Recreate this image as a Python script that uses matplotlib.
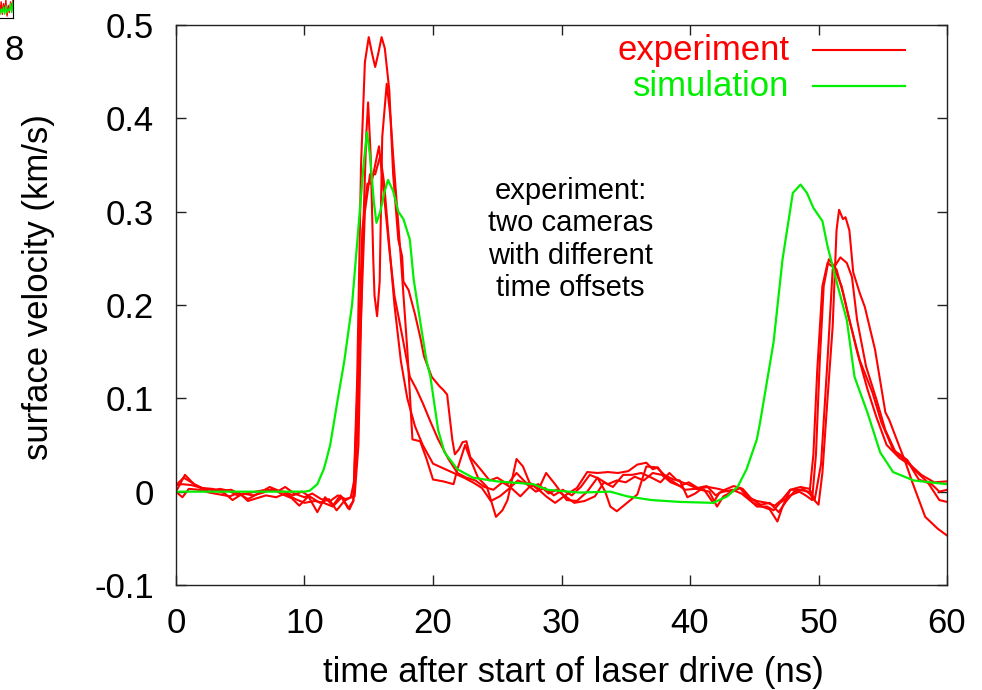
import matplotlib
matplotlib.use('Agg')
import matplotlib.pyplot as plt

plt.rcParams['font.family'] = ['Liberation Sans', 'DejaVu Sans']

# --- experiment traces: (time ns, surface velocity km/s) ---
exp1 = [(0, 0.0), (0.7, 0.018), (1.4, 0.008), (2.2, 0.003), (3.0, 0.002), (3.8, -0.002),
        (4.4, -0.009), (5.2, -0.002), (6.0, -0.004), (6.8, -0.001), (7.5, 0.003), (8.3, -0.003),
        (9.0, -0.007), (9.6, -0.015), (10.3, -0.005), (11.0, -0.022), (11.6, -0.006), (12.2, -0.015),
        (12.8, -0.004), (13.4, -0.018), (13.8, -0.01), (14.1, 0.12), (14.4, 0.35), (14.7, 0.46),
        (15.0, 0.487), (15.25, 0.47), (15.5, 0.455), (15.75, 0.47), (16.0, 0.487), (16.25, 0.475),
        (16.6, 0.43), (16.9, 0.34), (17.3, 0.27), (17.6, 0.252), (17.7, 0.225), (18.1, 0.216),
        (18.6, 0.19), (19.0, 0.166), (19.3, 0.145), (19.9, 0.123), (20.5, 0.113), (20.8, 0.109),
        (21.1, 0.104), (21.5, 0.056), (21.7, 0.04), (22.0, 0.045), (22.3, 0.053), (22.6, 0.054),
        (22.9, 0.037), (23.7, 0.024), (24.4, 0.012), (25.0, 0.015), (25.8, 0.008), (26.5, 0.02),
        (27.2, 0.01), (28.0, 0.005), (28.8, -0.005), (29.5, -0.012), (30.4, -0.003), (31.2, 0.004),
        (32.0, 0.021), (32.8, 0.02), (33.6, 0.021), (34.4, 0.02), (35.2, 0.022), (35.9, 0.029),
        (36.6, 0.031), (37.1, 0.024), (37.5, 0.026), (38.0, 0.016), (38.4, 0.013), (39.0, 0.008),
        (39.6, 0.002), (40.4, 0.003), (41.1, 0.002), (41.8, -0.012), (42.3, -0.001), (43.3, 0.002),
        (44.0, -0.002), (44.9, -0.012), (45.6, -0.016), (46.2, -0.019), (46.8, -0.032), (47.2, -0.016),
        (47.8, 0.002), (48.5, 0.002), (49.2, 0.0), (49.6, -0.008), (50.0, -0.014), (50.3, 0.02),
        (50.7, 0.1), (51.1, 0.177), (51.4, 0.28), (51.6, 0.302), (51.9, 0.292), (52.1, 0.294),
        (52.4, 0.28), (52.7, 0.235), (53.2, 0.213), (53.6, 0.198), (54.4, 0.152), (55.2, 0.085),
        (55.5, 0.077), (56.3, 0.048), (56.7, 0.034), (57.3, 0.01), (58.3, -0.027), (59.3, -0.04),
        (60.0, -0.047)]

exp2 = [(0, 0.007), (0.5, 0.008), (1.2, 0.007), (2.0, 0.004), (2.8, 0.003), (3.6, 0.001),
        (4.3, 0.002), (5.0, -0.003), (5.6, -0.008), (6.4, -0.002), (7.3, 0.005), (8.0, 0.001),
        (8.5, 0.005), (9.2, -0.002), (10.0, -0.006), (10.6, -0.002), (11.3, -0.008), (12.0, -0.01),
        (12.6, -0.004), (13.2, -0.008), (13.9, -0.005), (14.2, 0.05), (14.5, 0.25), (14.8, 0.38),
        (14.95, 0.417), (15.15, 0.36), (15.35, 0.25), (15.45, 0.21), (15.65, 0.188), (15.85, 0.225),
        (16.05, 0.38), (16.4, 0.437), (16.7, 0.40), (16.9, 0.36), (17.5, 0.25), (18.0, 0.152),
        (18.4, 0.056), (19.0, 0.054), (19.5, 0.035), (20.0, 0.013), (20.8, 0.011), (21.6, 0.008),
        (21.9, 0.024), (22.5, 0.05), (22.9, 0.035), (23.5, 0.015), (24.2, 0.005), (24.9, -0.027),
        (25.4, -0.02), (25.8, -0.009), (26.5, 0.035), (27.0, 0.027), (27.5, 0.01), (28.2, 0.002),
        (28.8, 0.02), (29.5, 0.008), (30.4, -0.009), (31.2, -0.01), (32.0, 0.0), (32.8, 0.015),
        (33.4, 0.0), (33.8, -0.016), (34.3, -0.021), (35.1, -0.012), (35.9, -0.003), (36.6, 0.027),
        (37.4, 0.026), (38.0, 0.018), (38.7, 0.013), (39.2, 0.012), (39.8, -0.006), (40.4, -0.002),
        (40.8, 0.002), (41.5, 0.0), (42.1, -0.016), (42.6, -0.005), (43.3, 0.0), (43.9, 0.004),
        (44.6, -0.008), (45.2, -0.016), (46.0, -0.016), (46.5, -0.02), (47.0, -0.012), (47.8, -0.004),
        (48.5, 0.0), (49.0, -0.004), (49.5, -0.009), (49.8, 0.04), (50.1, 0.141), (50.4, 0.22),
        (50.8, 0.249), (51.4, 0.238), (51.9, 0.213), (52.4, 0.184), (53.2, 0.141), (54.2, 0.106),
        (54.9, 0.074), (55.8, 0.045), (56.9, 0.034), (57.4, 0.024), (58.5, 0.01), (59.4, -0.009),
        (60.0, -0.011)]

exp3 = [(0, 0.0), (0.5, -0.006), (1.0, 0.003), (1.8, 0.002), (2.6, -0.001), (3.4, -0.003),
        (4.2, -0.005), (4.9, -0.001), (5.6, -0.01), (6.3, -0.007), (7.0, -0.004), (7.8, -0.006),
        (8.5, -0.002), (9.3, -0.008), (10.0, -0.012), (10.8, -0.01), (11.5, -0.012), (12.2, -0.016),
        (12.9, -0.006), (13.5, -0.019), (13.8, -0.01), (14.1, 0.1), (14.5, 0.28), (14.9, 0.33),
        (15.2, 0.33), (15.5, 0.35), (15.8, 0.37), (16.1, 0.33), (16.6, 0.26), (17.0, 0.21),
        (17.7, 0.16), (18.2, 0.123), (18.7, 0.11), (19.2, 0.095), (19.8, 0.075), (20.4, 0.056),
        (21.2, 0.035), (21.9, 0.02), (22.6, 0.015), (23.3, 0.012), (24.0, 0.005), (24.7, 0.002),
        (25.4, 0.01), (26.0, 0.005), (26.8, -0.005), (27.5, 0.005), (28.2, 0.008), (29.0, -0.002),
        (29.6, 0.002), (30.4, -0.006), (31.0, -0.012), (31.8, -0.01), (32.6, -0.005), (33.3, 0.01),
        (34.0, 0.005), (34.8, 0.018), (35.5, 0.018), (36.2, 0.02), (37.0, 0.015), (37.7, 0.01),
        (38.4, 0.02), (39.0, 0.012), (39.8, 0.008), (40.6, 0.003), (41.4, 0.005), (42.2, 0.003),
        (43.0, 0.0), (43.9, 0.004), (44.5, -0.006), (45.2, -0.01), (46.0, -0.012), (46.6, -0.015),
        (47.2, -0.008), (47.8, 0.002), (48.6, 0.005), (49.3, 0.003), (49.7, -0.009), (50.2, 0.03),
        (50.7, 0.141), (51.1, 0.238), (51.7, 0.251), (52.2, 0.245), (52.6, 0.23), (53.0, 0.184),
        (53.7, 0.134), (54.5, 0.099), (55.2, 0.066), (56.0, 0.042), (57.0, 0.031), (57.8, 0.013),
        (58.8, 0.008), (59.4, 0.0), (60.0, 0.002)]

exp4 = [(0, 0.007), (0.6, 0.015), (1.2, 0.01), (1.9, 0.004), (2.6, 0.0), (3.4, 0.003),
        (4.1, 0.001), (4.8, -0.004), (5.5, -0.002), (6.2, 0.0), (7.0, 0.002), (7.7, 0.001),
        (8.4, 0.0), (9.1, -0.004), (9.8, 0.0), (10.5, -0.006), (11.2, -0.012), (11.9, -0.008),
        (12.5, -0.02), (13.1, -0.01), (13.6, -0.006), (14.0, 0.02), (14.3, 0.15), (14.7, 0.3),
        (15.1, 0.34), (15.5, 0.34), (15.9, 0.36), (16.2, 0.33), (16.5, 0.28), (17.0, 0.2),
        (17.5, 0.14), (18.0, 0.1), (18.6, 0.07), (19.2, 0.05), (20.0, 0.03), (20.8, 0.025),
        (21.6, 0.02), (22.4, 0.015), (23.1, 0.01), (23.8, 0.004), (24.5, -0.01), (25.2, -0.005),
        (25.9, 0.003), (26.6, 0.012), (27.3, 0.008), (28.0, 0.0), (28.7, 0.004), (29.4, -0.004),
        (30.1, 0.002), (30.8, -0.004), (31.5, 0.005), (32.2, 0.018), (32.9, 0.014), (33.6, 0.008),
        (34.3, 0.012), (35.0, 0.01), (35.7, 0.016), (36.4, 0.012), (37.1, 0.02), (37.8, 0.018),
        (38.5, 0.01), (39.2, 0.006), (39.9, 0.01), (40.6, 0.004), (41.3, 0.006), (42.0, -0.004),
        (42.7, 0.002), (43.4, 0.006), (44.1, 0.003), (44.8, -0.008), (45.5, -0.014), (46.2, -0.012),
        (46.9, -0.022), (47.5, -0.01), (48.1, 0.0), (48.8, 0.003), (49.3, -0.002), (49.6, 0.04),
        (49.9, 0.13), (50.3, 0.22), (50.7, 0.245), (51.2, 0.24), (51.8, 0.22), (52.3, 0.19),
        (53.0, 0.15), (53.8, 0.11), (54.5, 0.08), (55.3, 0.05), (56.3, 0.036), (57.2, 0.028),
        (58.0, 0.018), (59.0, 0.01), (60.0, 0.011)]

# --- simulation ---
sim = [(0, 0.0), (5, 0.0), (10.0, 0.0), (10.4, 0.001), (11.0, 0.008), (11.5, 0.024),
       (11.7, 0.034), (12.0, 0.05), (12.3, 0.075), (12.6, 0.1), (13.1, 0.14), (13.7, 0.2),
       (14.3, 0.3), (14.6, 0.35), (14.86, 0.385), (15.1, 0.36), (15.4, 0.31), (15.6, 0.288),
       (15.9, 0.3), (16.2, 0.32), (16.5, 0.334), (16.9, 0.322), (17.3, 0.3), (17.7, 0.292),
       (18.2, 0.27), (18.5, 0.227), (19.1, 0.174), (19.5, 0.14), (19.8, 0.123), (20.4, 0.066),
       (20.9, 0.042), (21.9, 0.024), (23.1, 0.015), (25.0, 0.011), (27.8, 0.008), (28.9, 0.002),
       (31.4, -0.001), (33.8, 0.0), (35.1, -0.005), (37.0, -0.009), (39.2, -0.011), (41.8, -0.012),
       (42.9, -0.005), (43.7, 0.005), (44.4, 0.024), (45.2, 0.056), (45.45, 0.074), (46.5, 0.16),
       (47.2, 0.249), (48.0, 0.32), (48.6, 0.329), (49.1, 0.32), (49.6, 0.304), (50.3, 0.29),
       (50.7, 0.263), (51.5, 0.22), (52.2, 0.184), (52.8, 0.123), (53.8, 0.085), (54.8, 0.042),
       (55.8, 0.021), (57.4, 0.012), (60.0, 0.008)]

# clipped remnant of another plot in the top-left corner
inset_red = [0.3, 0.9, 0.2, 0.8, 0.4, 1.0, 0.1, 0.7, 0.3, 0.9, 0.5, 1.0]
inset_green = [0.2, 0.5, 0.3, 0.6, 0.2, 0.7, 0.3, 0.5, 0.4, 0.8, 0.3, 0.9]

xticks = [0, 10, 20, 30, 40, 50, 60]
yticks = [-0.1, 0, 0.1, 0.2, 0.3, 0.4, 0.5]
ytick_labels = ['-0.1', '0', '0.1', '0.2', '0.3', '0.4', '0.5']

RED = '#ff0000'
GREEN = '#00ee00'
FS = 25

fig = plt.figure(figsize=(9.82, 6.90), dpi=100)
ax = fig.add_axes([0.1792, 0.1522, 0.7852, 0.8116])

for trace in (exp1, exp2, exp3, exp4):
    t, v = zip(*trace)
    ax.plot(t, v, color=RED, lw=1.5)
t, v = zip(*sim)
ax.plot(t, v, color=GREEN, lw=1.6)

ax.set_xlim(0, 60)
ax.set_ylim(-0.1, 0.5)
ax.set_xticks(xticks)
ax.set_xticklabels([str(x) for x in xticks])
ax.set_yticks(yticks)
ax.set_yticklabels(ytick_labels)
ax.tick_params(direction='in', length=7, width=1, top=True, right=True,
               labelsize=FS, color='#222222')
ax.tick_params(axis='x', pad=16)
ax.tick_params(axis='y', pad=16)
for s in ax.spines.values():
    s.set_linewidth(1.0)
    s.set_color('#222222')

ax.set_xlabel('time after start of laser drive (ns)', fontsize=FS)
ax.set_ylabel('surface velocity (km/s)', fontsize=FS)
ax.xaxis.set_label_coords(0.516, -0.127)
ax.yaxis.set_label_coords(-0.157, 0.532)

# key, gnuplot style: right-aligned text then the line sample
ax.text(0.796, 0.955, 'experiment', color=RED, fontsize=FS, ha='right', va='center',
        transform=ax.transAxes)
ax.text(0.796, 0.891, 'simulation', color=GREEN, fontsize=FS, ha='right', va='center',
        transform=ax.transAxes)
ax.plot([0.826, 0.9455], [0.955, 0.955], color=RED, lw=1.5, transform=ax.transAxes)
ax.plot([0.826, 0.9455], [0.891, 0.891], color=GREEN, lw=1.6, transform=ax.transAxes)

ax.text(30.7, 0.27, 'experiment:\ntwo cameras\nwith different\ntime offsets',
        fontsize=21, ha='center', va='center', linespacing=1.2)

# remnant in the corner
ins = fig.add_axes([0.0, 0.974, 0.0132, 0.026])
ins.plot(inset_red, color=RED, lw=1)
ins.plot(inset_green, color=GREEN, lw=1)
ins.set_xlim(0, len(inset_red) - 1)
ins.set_ylim(0, 1)
ins.set_xticks([])
ins.set_yticks([])
ins.spines['left'].set_visible(False)
ins.spines['top'].set_visible(False)
fig.text(14 / 982, 1 - 51 / 690, '8', fontsize=FS, ha='center', va='center')

fig.savefig('out.png', dpi=100)
